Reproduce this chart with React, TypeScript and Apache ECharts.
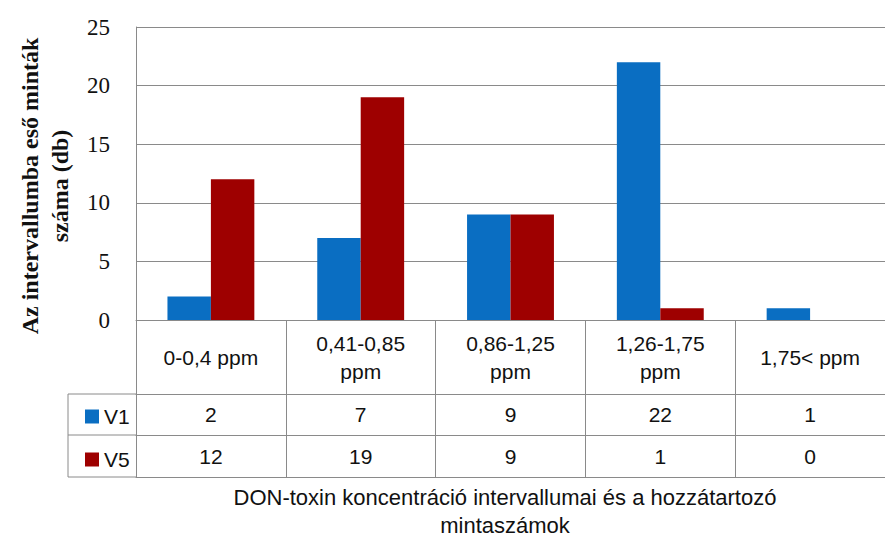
import React, { useEffect, useRef } from "react";
import * as echarts from "echarts";

const categories = ["0-0,4 ppm", "0,41-0,85\nppm", "0,86-1,25\nppm", "1,26-1,75\nppm", "1,75< ppm"];
const seriesNames = ["V1", "V5"];
const v1Values = [2, 7, 9, 22, 1];
const v5Values = [12, 19, 9, 1, 0];
const yTicks = { min: 0, max: 25, interval: 5 };
const yTitle = "Az intervallumba eső minták\nszáma (db)";
const xTitle = "DON-toxin koncentráció intervallumai és a hozzátartozó\nmintaszámok";

const BLUE = "#0A6EC2";
const RED = "#9E0000";
const LINE = "#8A8A8A";
const SANS = "'Liberation Sans', Arial, sans-serif";
const SERIF = "'Liberation Serif', 'Times New Roman', serif";

export default function App() {
  const ref = useRef<HTMLDivElement>(null);
  useEffect(() => {
    if (!ref.current) return;
    const chart = echarts.init(ref.current, undefined, { renderer: "svg" });
    const gridLeft = 136;
    const gridTop = 27;
    const gridH = 293;
    const rowH = [74, 41, 42];
    const offs = [0, rowH[0], rowH[0] + rowH[1], rowH[0] + rowH[1] + rowH[2]];
    const base = gridTop + gridH;

    const tableAxis = (idx: number, labels: (string | number)[], show: boolean) => ({
      type: "category",
      gridIndex: 0,
      position: "bottom",
      offset: offs[idx],
      data: categories,
      axisLine: { show: true, lineStyle: { color: LINE, width: 1 } },
      axisTick: {
        show: show,
        alignWithLabel: false,
        interval: 0,
        inside: false,
        length: idx < 3 ? rowH[idx] : 0,
        lineStyle: { color: LINE, width: 1 },
      },
      axisLabel: {
        show: show,
        interval: 0,
        margin: idx < 3 ? rowH[idx] / 2 : 0,
        verticalAlign: "middle",
        align: "center",
        color: "#111",
        fontFamily: SANS,
        fontSize: 21,
        lineHeight: 28,
        formatter: (_v: string, i: number) => String(labels[i]),
      },
      splitLine: { show: false },
    });

    chart.setOption({
      animation: false,
      backgroundColor: "#ffffff",
      grid: { left: gridLeft, top: gridTop, width: 758, height: gridH, containLabel: false },
      legend: {
        orient: "vertical",
        left: 80,
        top: base + offs[1] + 7,
        itemWidth: 14,
        itemHeight: 14,
        itemGap: 22,
        icon: "rect",
        textStyle: { fontFamily: SANS, fontSize: 21, color: "#111", lineHeight: 20 },
        data: seriesNames,
      },
      xAxis: [
        tableAxis(0, categories, true),
        tableAxis(1, v1Values, true),
        tableAxis(2, v5Values, true),
        tableAxis(3, [], false),
      ],
      yAxis: {
        type: "value",
        min: yTicks.min,
        max: yTicks.max,
        interval: yTicks.interval,
        axisLine: { show: true, lineStyle: { color: LINE, width: 1 } },
        axisTick: { show: false },
        axisLabel: { color: "#111", fontFamily: SERIF, fontSize: 23, margin: 26 },
        splitLine: { show: true, lineStyle: { color: LINE, width: 1 } },
      },
      series: [
        {
          name: seriesNames[0],
          type: "bar",
          xAxisIndex: 0,
          data: v1Values,
          itemStyle: { color: BLUE },
          barGap: "0%",
          barCategoryGap: "42%",
        },
        {
          name: seriesNames[1],
          type: "bar",
          xAxisIndex: 0,
          data: v5Values,
          itemStyle: { color: RED },
          barGap: "0%",
          barCategoryGap: "42%",
        },
      ],
      graphic: [
        { type: "line", shape: { x1: 68, y1: base + offs[1], x2: gridLeft, y2: base + offs[1] }, style: { stroke: LINE, lineWidth: 1 } },
        { type: "line", shape: { x1: 68, y1: base + offs[2], x2: gridLeft, y2: base + offs[2] }, style: { stroke: LINE, lineWidth: 1 } },
        { type: "line", shape: { x1: 68, y1: base + offs[3], x2: gridLeft, y2: base + offs[3] }, style: { stroke: LINE, lineWidth: 1 } },
        { type: "line", shape: { x1: 68, y1: base + offs[1], x2: 68, y2: base + offs[3] }, style: { stroke: LINE, lineWidth: 1 } },
        {
          type: "text",
          x: 45,
          y: 186,
          rotation: Math.PI / 2,
          style: {
            text: yTitle,
            font: "bold 24px " + SERIF,
            fill: "#111",
            align: "center",
            verticalAlign: "middle",
            lineHeight: 30,
          },
        },
        {
          type: "text",
          x: 505,
          y: 511,
          style: {
            text: xTitle,
            font: "22px " + SANS,
            fill: "#111",
            align: "center",
            verticalAlign: "middle",
            lineHeight: 28,
          },
        },
      ],
    });
    return () => chart.dispose();
  }, []);
  return (
    <div
      ref={ref}
      style={{ position: "fixed", left: 0, top: 0, width: 885, height: 541, background: "#fff" }}
    />
  );
}
